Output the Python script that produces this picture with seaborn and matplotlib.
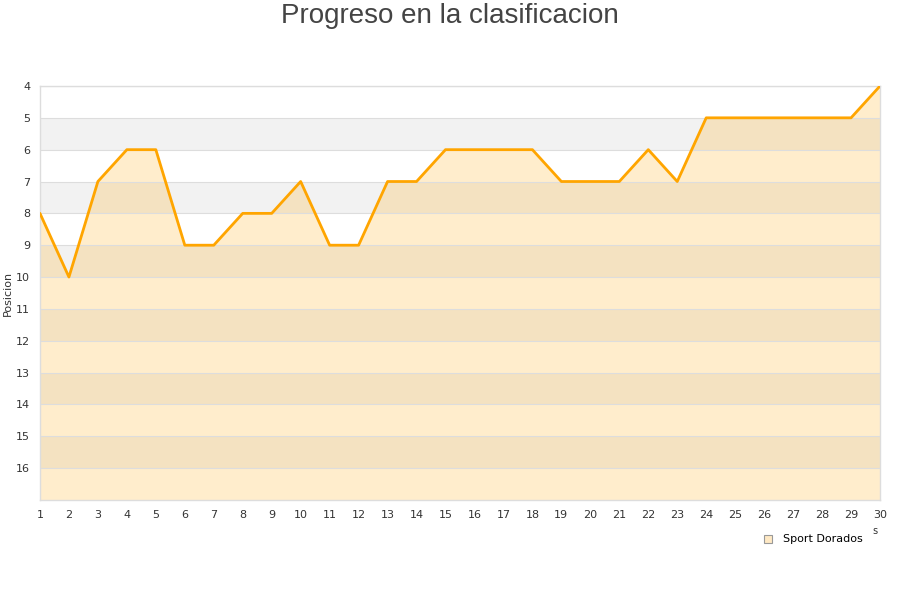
import matplotlib.pyplot as plt
import pandas as pd
import seaborn as sns

# Datos: posicion por jornada
jornadas = list(range(1, 31))
posiciones = [8, 10, 7, 6, 6, 9, 9, 8, 8, 7, 9, 9, 7, 7, 6, 6, 6, 6, 7, 7,
              7, 6, 7, 5, 5, 5, 5, 5, 5, 4]
equipo = "Sport Dorados"
ticks_y = list(range(4, 17))

df = pd.DataFrame({"Jornada": jornadas, "Posicion": posiciones})

sns.set_style("white")
plt.rcParams['font.family'] = ['DejaVu Sans']

fig = plt.figure(figsize=(9, 6), dpi=100)
ax = fig.add_axes([0.0444, 0.1667, 0.9334, 0.69])

# Bandas alternas
for y0 in range(5, 17, 2):
    ax.axhspan(y0, y0 + 1, color='#f2f2f2', zorder=0, lw=0)

ax.fill_between(df['Jornada'], df['Posicion'], 17, color='#ffa500', alpha=0.2, lw=0, zorder=1)
sns.lineplot(data=df, x='Jornada', y='Posicion', color='#ffa500', linewidth=2.0, ax=ax, zorder=3)

ax.set_xlim(1, 30)
ax.set_ylim(17, 4)
ax.set_xticks(jornadas)
ax.set_yticks(ticks_y)
ax.grid(axis='y', color='#dddddd', linewidth=0.8, zorder=2)
ax.set_axisbelow(False)
for s in ax.spines.values():
    s.set_color('#dddddd')
    s.set_linewidth(1)
ax.tick_params(axis='both', length=0, labelsize=8, colors='#333333', pad=7)
ax.set_xlabel('')
ax.set_ylabel('Posicion', fontsize=8, color='#333333', labelpad=2)

fig.text(0.5, 0.995, "Progreso en la clasificacion", ha='center', va='top',
         fontsize=20, color='#444444', family='Liberation Sans')

fig.text(0.972, 0.11, "s", fontsize=7, color='#333333', ha='center')

handle = plt.Line2D([], [], marker='s', linestyle='none', markersize=6,
                    markerfacecolor='#ffe9c4', markeredgecolor='#999999', markeredgewidth=0.8)
fig.legend([handle], [equipo], loc='center', bbox_to_anchor=(0.9, 0.101),
           frameon=False, fontsize=8, handletextpad=0.3, labelcolor='black')

fig.savefig("out.png", dpi=100)
